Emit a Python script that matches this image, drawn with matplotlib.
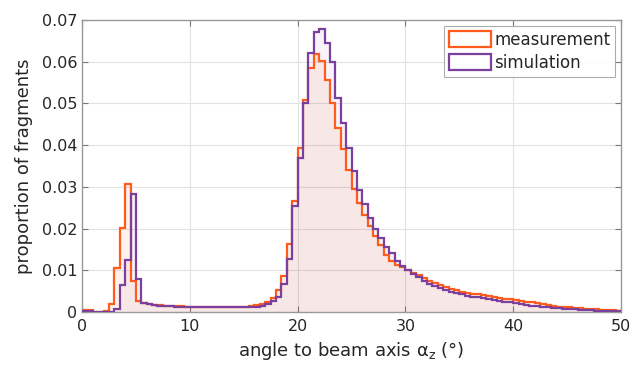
import numpy as np
import matplotlib
matplotlib.use("Agg")
import matplotlib.pyplot as plt
from matplotlib.patches import Patch

bin_edges = np.arange(0, 50.5, 0.5)

measurement = [
    0.0004, 0.0004, 0.0001, 0.0001, 0.0002, 0.0020, 0.0106, 0.0202, 0.0306, 0.0074,
    0.0027, 0.0021, 0.0019, 0.0017, 0.0016, 0.0015, 0.0015, 0.0014, 0.0014, 0.0013,
    0.0013, 0.0012, 0.0012, 0.0012, 0.0012, 0.0012, 0.0012, 0.0012, 0.0012, 0.0012,
    0.0013, 0.0014, 0.0016, 0.0019, 0.0025, 0.0034, 0.0053, 0.0086, 0.0162, 0.0266,
    0.0394, 0.0508, 0.0584, 0.0618, 0.0602, 0.0556, 0.0500, 0.0440, 0.0390, 0.0340,
    0.0294, 0.0261, 0.0233, 0.0205, 0.0182, 0.0160, 0.0137, 0.0122, 0.0113, 0.0108,
    0.0100, 0.0094, 0.0088, 0.0081, 0.0075, 0.0069, 0.0064, 0.0060, 0.0056, 0.0052,
    0.0049, 0.0046, 0.0044, 0.0042, 0.0040, 0.0038, 0.0036, 0.0034, 0.0032, 0.0031,
    0.0029, 0.0027, 0.0025, 0.0023, 0.0021, 0.0019, 0.0017, 0.0015, 0.0013, 0.0012,
    0.0011, 0.0010, 0.0009, 0.0008, 0.0007, 0.0006, 0.0005, 0.0004, 0.0004, 0.0003,
]

simulation = [
    0.0002, 0.0002, 0.0000, 0.0000, 0.0000, 0.0001, 0.0008, 0.0064, 0.0124, 0.0284,
    0.0078, 0.0021, 0.0018, 0.0016, 0.0015, 0.0014, 0.0014, 0.0013, 0.0013, 0.0012,
    0.0011, 0.0011, 0.0011, 0.0011, 0.0011, 0.0011, 0.0011, 0.0011, 0.0011, 0.0011,
    0.0011, 0.0012, 0.0013, 0.0014, 0.0019, 0.0026, 0.0036, 0.0068, 0.0128, 0.0255,
    0.0370, 0.0500, 0.0620, 0.0672, 0.0678, 0.0645, 0.0600, 0.0512, 0.0452, 0.0393,
    0.0339, 0.0293, 0.0259, 0.0225, 0.0199, 0.0177, 0.0155, 0.0141, 0.0122, 0.0110,
    0.0101, 0.0092, 0.0083, 0.0075, 0.0068, 0.0062, 0.0057, 0.0053, 0.0049, 0.0045,
    0.0042, 0.0039, 0.0037, 0.0035, 0.0033, 0.0031, 0.0029, 0.0027, 0.0025, 0.0023,
    0.0021, 0.0019, 0.0017, 0.0015, 0.0014, 0.0012, 0.0011, 0.0010, 0.0009, 0.0008,
    0.0007, 0.0006, 0.0005, 0.0004, 0.0004, 0.0003, 0.0003, 0.0002, 0.0002, 0.0002,
]

x_ticks = [0, 10, 20, 30, 40, 50]
y_ticks = [0, 0.01, 0.02, 0.03, 0.04, 0.05, 0.06, 0.07]
y_tick_labels = ["0", "0.01", "0.02", "0.03", "0.04", "0.05", "0.06", "0.07"]

c_meas = "#FF5B1A"
c_sim = "#7B3F9E"

plt.rcParams["font.family"] = ["DejaVu Sans"]

fig = plt.figure(figsize=(6.33, 3.67), dpi=100)
ax = fig.add_axes([82 / 633, 1 - 312 / 367, (621 - 82) / 633, (312 - 20) / 367])

ax.stairs(simulation, bin_edges, fill=True, color=c_sim, alpha=0.06, zorder=1)
ax.stairs(measurement, bin_edges, fill=True, color=c_meas, alpha=0.08, zorder=1)
ax.stairs(simulation, bin_edges, color=c_sim, lw=1.6, zorder=3)
ax.stairs(measurement, bin_edges, color=c_meas, lw=1.6, zorder=2)

ax.set_xlim(0, 50)
ax.set_ylim(0, 0.07)
ax.set_xticks(x_ticks)
ax.set_yticks(y_ticks)
ax.set_yticklabels(y_tick_labels)
ax.tick_params(direction="in", top=True, right=True, labelsize=11.5, length=4,
               color="#777777", width=0.8, labelcolor="#262626")
ax.tick_params(axis="x", pad=5)
ax.grid(True, color="#e2e2e2", lw=0.8)
ax.set_axisbelow(True)
for s in ax.spines.values():
    s.set_color("#999999")
    s.set_linewidth(1.0)

ax.set_xlabel("angle to beam axis α$_\\mathregular{z}$ (°)", fontsize=13, labelpad=4,
              color="#262626")
ax.set_ylabel("proportion of fragments", fontsize=13, labelpad=6, color="#262626")

handles = [Patch(facecolor="white", edgecolor=c_meas, lw=1.6),
           Patch(facecolor="white", edgecolor=c_sim, lw=1.6)]
leg = ax.legend(handles, ["measurement", "simulation"], loc="upper right",
                fontsize=12, frameon=True, fancybox=False, edgecolor="#999999",
                handlelength=2.5, handleheight=1.1, handletextpad=0.2,
                borderpad=0.3, labelspacing=0.3, borderaxespad=0.35)
leg.get_frame().set_linewidth(0.8)
for t in leg.get_texts():
    t.set_color("#262626")

fig.savefig("out.png", dpi=100)
